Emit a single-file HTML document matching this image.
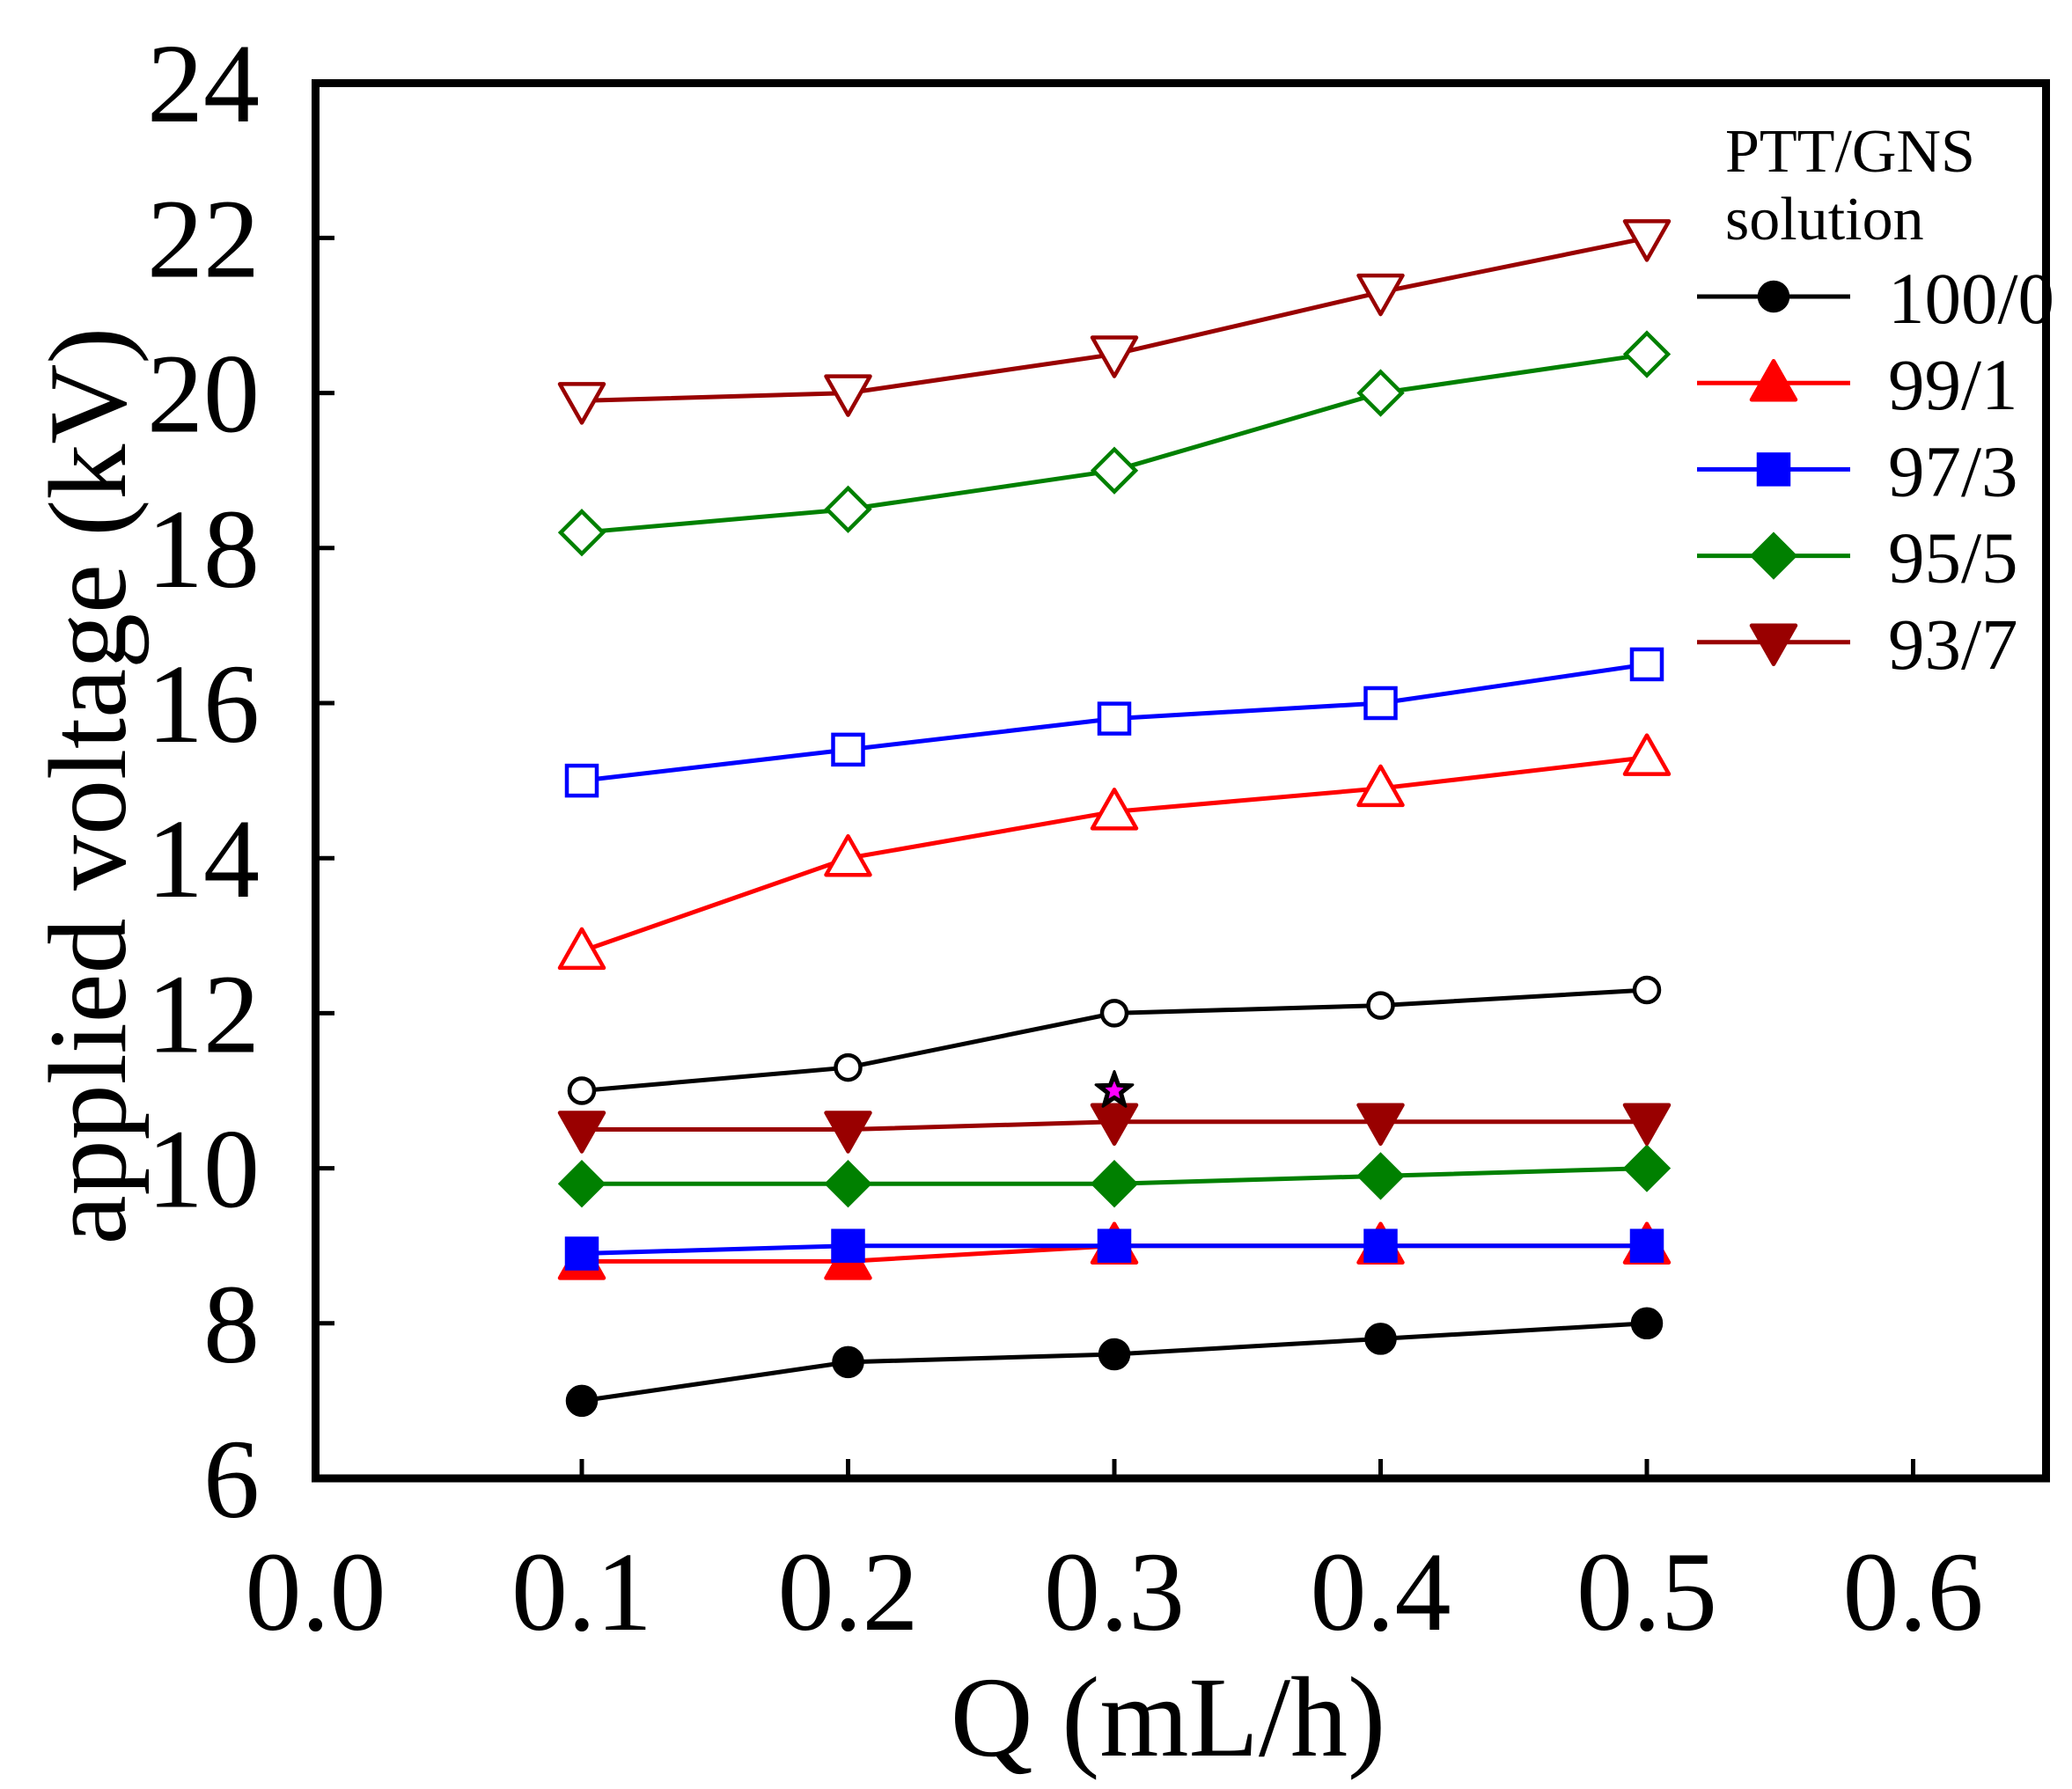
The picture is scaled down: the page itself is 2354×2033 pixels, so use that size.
<!DOCTYPE html>
<html><head><meta charset="utf-8"><style>html,body{margin:0;padding:0;background:#fff}svg{display:block}</style></head>
<body>
<svg id="s" width="2354" height="2033" xmlns="http://www.w3.org/2000/svg" font-family="'Liberation Serif', serif">
<rect width="2354" height="2033" fill="#fff"/>
</svg>
<script>
const s=document.getElementById('s');const NS='http://www.w3.org/2000/svg';
function el(t,a,txt){const e=document.createElementNS(NS,t);for(const k in a)e.setAttribute(k,a[k]);if(txt!=null)e.textContent=txt;s.appendChild(e);return e;}
const X=v=>358.5+v/0.1*302.5, Y=v=>1680-(v-6)/2*176.2;
for(let i=0;i<=6;i++){const x=X(i/10);el('line',{x1:x,y1:1680,x2:x,y2:1658,stroke:'#000','stroke-width':5});
 el('text',{x:x,y:1852,'font-size':128,'text-anchor':'middle'},(i/10).toFixed(1));}
for(let v=6;v<=24;v+=2){const y=Y(v);el('line',{x1:358,y1:y,x2:380,y2:y,stroke:'#000','stroke-width':5});
 el('text',{x:295,y:y+44,'font-size':128,'text-anchor':'end'},v);}
el('text',{x:1327,y:1995,'font-size':130,'text-anchor':'middle'},'Q (mL/h)');
el('text',{x:0,y:0,'font-size':126,'text-anchor':'middle',transform:'translate(142,893) rotate(-90)'},'applied voltage (kV)');
function mk(type,x,y,c,fill){const f=fill?c:'#fff';const sw=4.5;
 if(type=='c')el('circle',{cx:x,cy:y,r:fill?16:14,fill:f,stroke:c,'stroke-width':sw});
 else if(type=='u')el('polygon',{points:`${x},${y-25} ${x+25},${y+19} ${x-25},${y+19}`,fill:f,stroke:c,'stroke-width':sw,'stroke-linejoin':'round'});
 else if(type=='d')el('polygon',{points:`${x-25},${y-19} ${x+25},${y-19} ${x},${y+25}`,fill:f,stroke:c,'stroke-width':sw,'stroke-linejoin':'round'});
 else if(type=='s')el('rect',{x:x-17,y:y-17,width:34,height:34,fill:f,stroke:c,'stroke-width':sw});
 else if(type=='r')el('polygon',{points:`${x},${y-24} ${x+24},${y} ${x},${y+24} ${x-24},${y}`,fill:f,stroke:c,'stroke-width':sw});}
const xs=[.1,.2,.3,.4,.5];
const S=[
['c','#000',[7,7.5,7.6,7.8,8],[11,11.3,12,12.1,12.3]],
['u','#ff0000',[8.8,8.8,9,9,9],[12.8,14,14.6,14.9,15.3]],
['s','#0000ff',[8.9,9,9,9,9],[15,15.4,15.8,16,16.5]],
['r','#008000',[9.8,9.8,9.8,9.9,10],[18.2,18.5,19,20,20.5]],
['d','#990000',[10.5,10.5,10.6,10.6,10.6],[19.9,20,20.5,21.3,22]]];
for(const [t,c,f,o] of S){for(const [d,fl] of [[f,1],[o,0]]){
 el('polyline',{points:xs.map((x,i)=>X(x)+','+Y(d[i])).join(' '),fill:'none',stroke:c,'stroke-width':5});
 xs.forEach((x,i)=>mk(t,X(x),Y(d[i]),c,fl));}}
(function(){const cx=X(.3),cy=Y(11);let p=[],q=[];for(let i=0;i<10;i++){const a=-Math.PI/2+i*Math.PI/5;const r=i%2?9:22, r2=i%2?5:11;p.push((cx+r*Math.cos(a))+','+(cy+r*Math.sin(a)));q.push((cx+r2*Math.cos(a))+','+(cy+r2*Math.sin(a)));}
el('polygon',{points:p.join(' '),fill:'#000',stroke:'#000','stroke-width':3,'stroke-linejoin':'round'});el('polygon',{points:q.join(' '),fill:'#ff00ff'});})();
el('rect',{x:358.5,y:94.5,width:1966,height:1585.5,fill:'none',stroke:'#000','stroke-width':9});
el('text',{x:1960,y:195,'font-size':70},'PTT/GNS');
el('text',{x:1960,y:272,'font-size':70},'solution');
const L=[['c','#000','100/0'],['u','#ff0000','99/1'],['s','#0000ff','97/3'],['r','#008000','95/5'],['d','#990000','93/7']];
L.forEach(([t,c,n],i)=>{const y=337+i*98.2;el('line',{x1:1928,y1:y,x2:2102,y2:y,stroke:c,'stroke-width':5});mk(t,2015,y,c,1);
 el('text',{x:2145,y:y+30,'font-size':83},n);});
</script>
</body></html>
